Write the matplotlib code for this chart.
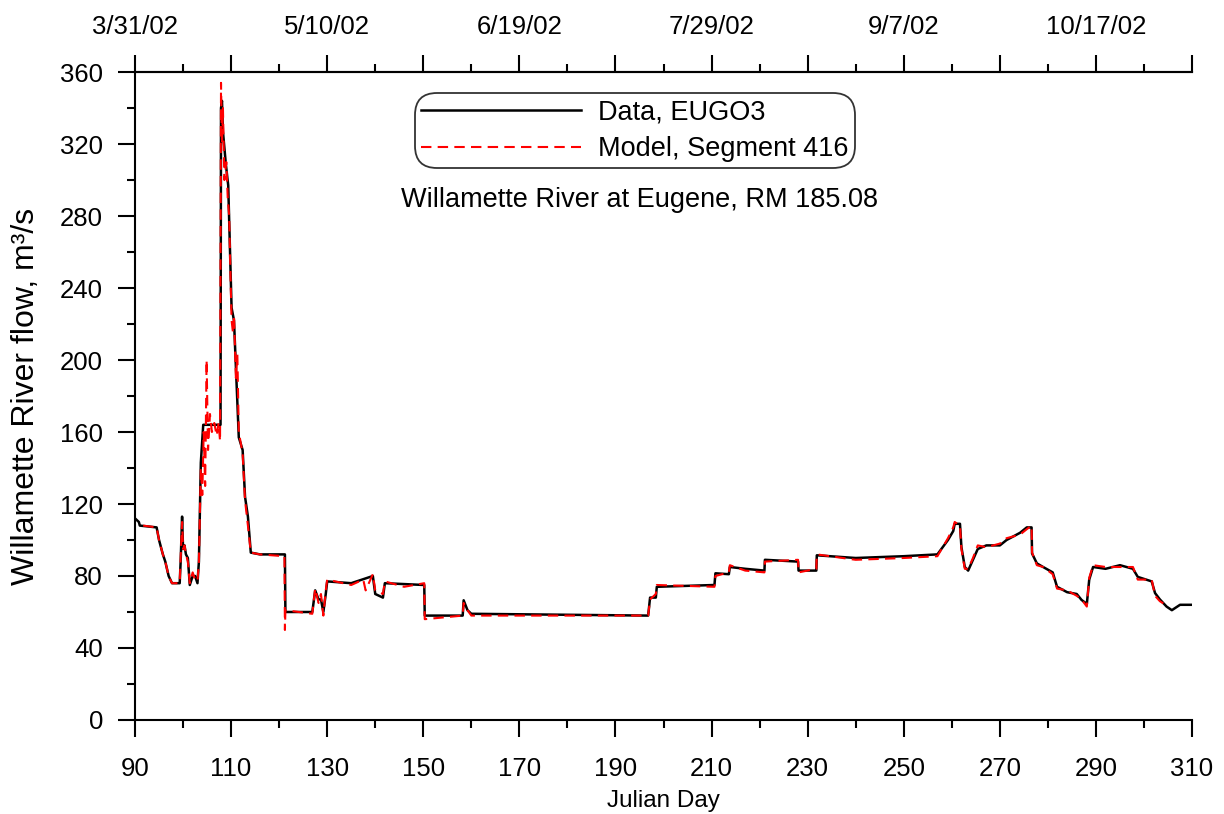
import matplotlib
matplotlib.use("Agg")
import matplotlib.pyplot as plt
from matplotlib.ticker import MultipleLocator, FixedLocator, FixedFormatter

plt.rcParams['font.family'] = ['Liberation Sans', 'DejaVu Sans']

# ---- data ----
data_day = [90, 90.8, 91, 94.5, 95, 95.8, 96.3, 97, 97.7, 99.3, 99.5, 99.8, 100.0, 100.3,
            100.6, 101.0, 101.4, 102.0, 102.5, 103.0, 103.3, 103.7, 104.2, 107.8, 107.9,
            108.1, 108.3, 108.9, 109.4, 109.8, 110.1, 110.6, 111.0, 111.6, 112.4, 112.9,
            113.5, 114.1, 116, 121.2, 121.3, 126.9, 127.5, 128.2, 128.7, 129.2, 129.7,
            130.0, 135, 139.5, 140, 141.6, 142, 150.2, 150.3, 158.2, 158.4, 159.2, 160,
            196.8, 197.2, 198.4, 198.6, 210.6, 210.8, 213.6, 213.8, 217, 221, 221.1, 228,
            228.1, 231.8, 231.9, 240, 250, 257, 259.2, 260.3, 260.6, 261.7, 262.0, 262.7,
            263.4, 264.4, 265.4, 267.2, 270, 271.4, 274.2, 275.6, 276.6, 276.7, 277.7, 279,
            281, 281.9, 284, 286, 287, 288.1, 288.6, 289.4, 292, 295, 297.7, 298.7, 301.6,
            302.3, 303.3, 304.7, 305.8, 307.5, 310]
data_flow = [112, 110, 108, 107, 100, 92, 88, 80, 76, 76, 88, 113, 95, 97,
             92, 90, 75, 80, 80, 76, 88, 143, 164, 164, 340,
             344, 327, 309, 297, 258, 229, 222, 196, 157, 150, 124,
             113, 93, 92, 92, 60, 60, 72, 67, 67, 60, 70,
             77, 76, 80, 70, 68, 76, 75, 58, 58, 66.5, 61, 59,
             58, 68, 68, 74, 75, 81.5, 81, 85, 84, 83, 89, 88,
             83, 83, 91.5, 90, 91, 92, 100, 105, 109, 109, 96, 85,
             83, 89, 95, 97, 97, 100, 104, 107, 107, 92.5, 87, 85,
             82, 74, 71, 70, 66.7, 64.5, 78, 85, 84, 86, 84, 79.5, 77,
             70.5, 67, 63, 61, 64, 64]

model_day = [91.7, 94.5, 95, 95.8, 96.3, 97, 97.7, 99.3, 99.5, 99.8, 100.0, 100.3, 100.6,
             101.0, 101.4, 102.0, 102.5, 103.0, 103.3, 103.7, 104.0, 104.3, 104.6, 104.9,
             105.2, 105.6, 106.0, 106.5, 107.0, 107.4, 107.7, 107.9, 108.1, 108.3, 108.6,
             109.0, 109.3, 109.6, 109.8, 110.1, 110.4, 110.6, 111.0, 111.3, 111.6, 112.4,
             112.9, 113.5, 114.1, 116, 121.1, 121.2, 121.3, 126.9, 127.5, 128.2, 128.7,
             129.2, 129.7, 130.0, 135, 137.5, 138, 139.5, 140, 141.6, 142, 146, 150.2,
             150.3, 158.2, 158.4, 159.2, 160, 196.8, 197.2, 198.4, 198.6, 210.6, 210.8,
             213.6, 213.8, 217, 221, 221.1, 228, 228.1, 231.8, 231.9, 240, 250, 257, 259.2,
             260.3, 260.6, 261.7, 262.0, 262.7, 263.4, 264.4, 265.4, 267.2, 270, 271.4,
             274.2, 275.6, 276.6, 276.7, 277.7, 279, 281, 281.9, 284, 286, 287, 288.1,
             288.6, 289.4, 292, 295, 297.7, 298.7, 301.6, 302.3, 303.3, 304.5]
model_flow = [108, 107, 100, 92, 88, 80, 76, 76, 90, 110, 95, 97, 92,
              88, 76, 82, 78, 77, 88, 140, 125, 160, 130, 200,
              150, 170, 160, 165, 158, 165, 155, 354, 320, 340, 300,
              310, 290, 280, 255, 222, 215, 225, 190, 203, 160, 148,
              122, 108, 93, 92, 91, 50, 61, 59, 73, 65, 70,
              58, 72, 78, 75, 78, 72, 81, 72, 70, 77, 74, 76,
              56, 58, 65, 61, 58, 58, 67, 70, 75, 74, 80,
              82, 86, 83, 82, 88, 89, 82, 84, 92, 89, 90, 91, 101,
              107, 110, 108, 95, 84, 84, 90, 97, 96, 98, 101,
              103, 106, 108, 93, 86, 85, 81, 73, 72, 69, 67, 63,
              79, 86, 85, 85, 85, 78, 78, 69, 66, 64]

bottom_ticks = [90, 110, 130, 150, 170, 190, 210, 230, 250, 270, 290, 310]
top_tick_days = [90, 110, 130, 150, 170, 190, 210, 230, 250, 270, 290, 310]
top_tick_labels = ['3/31/02', '', '5/10/02', '', '6/19/02', '', '7/29/02', '',
                   '9/7/02', '', '10/17/02', '']
y_ticks = [0, 40, 80, 120, 160, 200, 240, 280, 320, 360]

FS_TICK = 18.5
FS_TEXT = 19.5
fig = plt.figure(figsize=(12.24, 8.14), dpi=100)
ax = fig.add_axes([0.1103, 0.1155, 0.8636, 0.796])

ax.plot(data_day, data_flow, color='black', lw=1.8, label='Data, EUGO3')
ax.plot(model_day, model_flow, color='red', lw=1.5, dashes=(5, 3),
        label='Model, Segment 416')

ax.set_xlim(90, 310)
ax.set_ylim(0, 360)
ax.xaxis.set_major_locator(FixedLocator(bottom_ticks))
ax.xaxis.set_minor_locator(MultipleLocator(10))
ax.yaxis.set_major_locator(FixedLocator(y_ticks))
ax.yaxis.set_minor_locator(MultipleLocator(20))

for s in ['left', 'bottom', 'top']:
    ax.spines[s].set_linewidth(1.5)
ax.spines['right'].set_visible(False)

ax.tick_params(axis='both', which='major', direction='out', length=12, width=1.5,
               labelsize=FS_TICK)
ax.tick_params(axis='both', which='minor', direction='out', length=6, width=1.5)
ax.tick_params(axis='x', which='major', pad=15)
ax.tick_params(axis='y', which='major', pad=11)
ax.tick_params(top=False, right=False, which='both')

ax2 = ax.twiny()
ax2.set_xlim(ax.get_xlim())
ax2.xaxis.set_major_locator(FixedLocator(top_tick_days))
ax2.xaxis.set_major_formatter(FixedFormatter(top_tick_labels))
ax2.xaxis.set_minor_locator(MultipleLocator(10))
ax2.tick_params(axis='x', which='major', direction='out', length=12, width=1.5,
                labelsize=FS_TICK, pad=12)
ax2.tick_params(axis='x', which='minor', direction='out', length=6, width=1.5)
for s in ['left', 'bottom', 'right']:
    ax2.spines[s].set_visible(False)
ax2.spines['top'].set_linewidth(1.5)

ax.set_xlabel('Julian Day', fontsize=17.5, labelpad=6)
ax.set_ylabel('Willamette River flow, m\u00b3/s', fontsize=23, labelpad=14)

ax.text(195, 289, 'Willamette River at Eugene, RM 185.08', fontsize=FS_TEXT,
        ha='center', va='center')

leg = ax.legend(loc='upper center', bbox_to_anchor=(0.473, 0.988), fontsize=FS_TEXT,
                handlelength=5.9, handletextpad=0.65, labelspacing=0.4,
                borderpad=0.22, frameon=True, fancybox=True)
frame = leg.get_frame()
frame.set_edgecolor('black')
frame.set_linewidth(1.3)
frame.set_boxstyle('round,pad=0.0,rounding_size=0.8')
leg.set_zorder(5)

fig.savefig('out.png', dpi=100)
